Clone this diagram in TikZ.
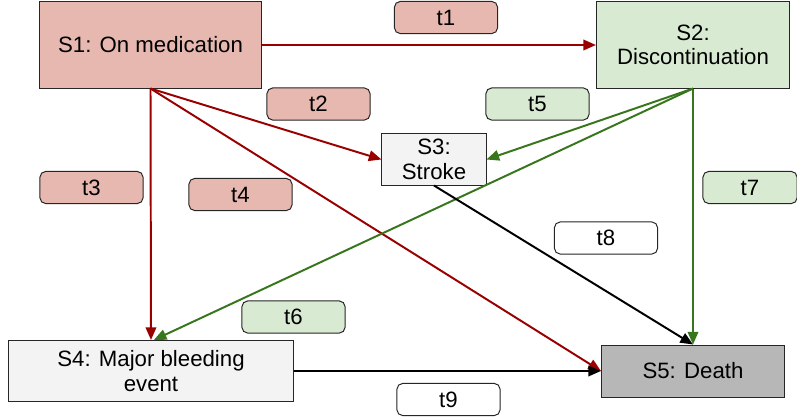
\documentclass[tikz,border=0pt]{standalone}
\usepackage{fontspec}
\setmainfont{Liberation Sans}
\usetikzlibrary{arrows.meta, positioning}

\definecolor{medred}{HTML}{990000}
\definecolor{medfill}{HTML}{E6B8AF}
\definecolor{discgreen}{HTML}{38761D}
\definecolor{discfill}{HTML}{D9EAD3}
\definecolor{stategray}{HTML}{F3F3F3}
\definecolor{deathgray}{HTML}{B7B7B7}

\tikzset{
  statebox/.style={shape=rectangle, draw=black!85, line width=0.7pt, inner sep=1pt, align=center, font=\fontsize{15.8}{17.5}\selectfont},
  ratebox/.style={shape=rectangle, rounded corners=4pt, draw=black!85, line width=0.7pt, inner sep=1pt, minimum height=22.8pt, minimum width=73.3pt, font=\fontsize{15.8}{17.5}\selectfont},
  tip/.style={-{Triangle[length=9pt, width=7.5pt]}},
  redline/.style={tip, draw=medred, line width=1.4pt},
  greenline/.style={tip, draw=discgreen, line width=1.4pt},
  blackline/.style={tip, draw=black, line width=1.4pt}
}

\begin{document}
\begin{tikzpicture}[x=0.025cm, y=-0.025cm]
\useasboundingbox (0,0) rectangle (797,416);
\node[statebox, minimum height=61.2pt, minimum width=157.2pt, fill=medfill] (s1) at (150.5,45) {S1: On medication};
\node[statebox, minimum height=61.2pt, minimum width=137.3pt, fill=discfill] (s2) at (693,45) {S2:\\Discontinuation};
\node[statebox, minimum height=36.3pt, minimum width=74pt, fill=stategray] (s3) at (434,159.5) {S3:\\Stroke};
\node[statebox, minimum height=43.4pt, minimum width=202pt, fill=stategray] (s4) at (151,371) {S4: Major bleeding\\event};
\node[statebox, minimum height=37pt, minimum width=130.2pt, fill=deathgray] (s5) at (693,371) {S5: Death};

\node[ratebox, fill=medfill] (t1) at (446,17.5) {t1};
\node[ratebox, fill=medfill] (t2) at (318.5,104) {t2};
\node[ratebox, fill=medfill] (t3) at (91.5,187.5) {t3};
\node[ratebox, fill=medfill] (t4) at (240.5,194.5) {t4};
\node[ratebox, fill=discfill] (t5) at (537.5,104) {t5};
\node[ratebox, fill=discfill] (t6) at (293.5,317) {t6};
\node[ratebox, fill=discfill, minimum width=66.9pt] (t7) at (750,187.5) {t7};
\node[ratebox, fill=white] (t8) at (606,238) {t8};
\node[ratebox, fill=white] (t9) at (448.5,399.5) {t9};

\draw[redline] (s1) -- (s2); \draw[redline] (s1.south) -- (s3.west);
\draw[redline] (s1.south) -- (s4.north); \draw[redline] (s1.south) -- (s5.west);
\draw[greenline] (s2.south) -- (s3.east); \draw[greenline] (s2.south) -- ([xshift=2pt]s4.north);
\draw[greenline] (s2.south) -- (s5.north);
\draw[blackline] (s3.south) -- (s5.north); \draw[blackline] (s4) -- (s5);
\end{tikzpicture}
\end{document}
